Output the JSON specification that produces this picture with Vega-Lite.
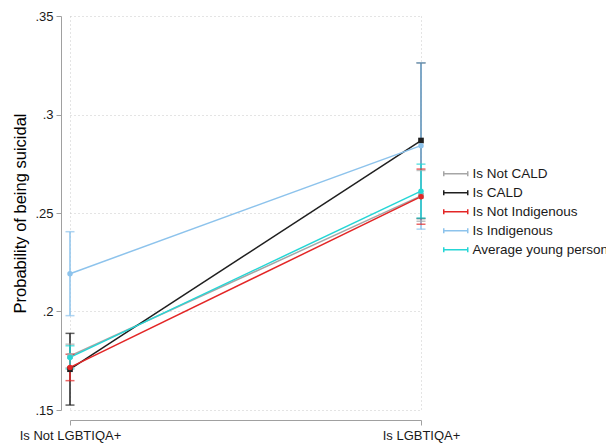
{
  "$schema": "https://vega.github.io/schema/vega-lite/v6.json",
  "autosize": "none",
  "width": 351,
  "height": 394,
  "padding": {"left": 70, "top": 16, "right": 185, "bottom": 35},
  "background": "white",
  "config": {
    "view": {"stroke": null},
    "font": "Liberation Sans"
  },
  "data": {
    "values": [
      {"series": "Is Not CALD", "group": "Is Not LGBTIQA+", "p": 0.1774, "lo": 0.1714, "hi": 0.1834},
      {"series": "Is Not CALD", "group": "Is LGBTIQA+", "p": 0.2587, "lo": 0.2458, "hi": 0.2716},
      {"series": "Is CALD", "group": "Is Not LGBTIQA+", "p": 0.1707, "lo": 0.1525, "hi": 0.1889},
      {"series": "Is CALD", "group": "Is LGBTIQA+", "p": 0.2868, "lo": 0.2472, "hi": 0.3262},
      {"series": "Is Not Indigenous", "group": "Is Not LGBTIQA+", "p": 0.1716, "lo": 0.1649, "hi": 0.1783},
      {"series": "Is Not Indigenous", "group": "Is LGBTIQA+", "p": 0.2583, "lo": 0.2443, "hi": 0.2723},
      {"series": "Is Indigenous", "group": "Is Not LGBTIQA+", "p": 0.2192, "lo": 0.1979, "hi": 0.2405},
      {"series": "Is Indigenous", "group": "Is LGBTIQA+", "p": 0.2842, "lo": 0.2418, "hi": 0.3262},
      {"series": "Average young person", "group": "Is Not LGBTIQA+", "p": 0.1767, "lo": 0.1708, "hi": 0.1826},
      {"series": "Average young person", "group": "Is LGBTIQA+", "p": 0.2611, "lo": 0.2474, "hi": 0.2748}
    ]
  },
  "encoding": {
    "x": {
      "field": "group", "type": "nominal",
      "scale": {"type": "point", "padding": 0, "domain": ["Is Not LGBTIQA+", "Is LGBTIQA+"]},
      "axis": {
        "title": null, "labelAngle": 0, "offset": 10, "tickSize": 5, "labelPadding": 4,
        "labelFontSize": 13, "labelColor": "#1a1a1a", "domainColor": "#a0a0a0", "tickColor": "#a0a0a0",
        "grid": true, "gridDash": [1, 3], "gridColor": "#c8c8c8", "gridWidth": 1
      }
    },
    "color": {
      "field": "series", "type": "nominal",
      "scale": {
        "domain": ["Is Not CALD", "Is CALD", "Is Not Indigenous", "Is Indigenous", "Average young person"],
        "range": ["#a6a6a6", "#1f1f1f", "#e32626", "#8dc3ec", "#25d6d6"]
      },
      "legend": {
        "title": null, "orient": "none", "legendX": 379, "legendY": 151, "padding": 0,
        "symbolType": "M-3,0H3M-3,-0.6V0.6M3,-0.6V0.6", "symbolSize": 64, "symbolStrokeWidth": 1.5,
        "symbolFillColor": "transparent",
        "labelFontSize": 13.5, "labelColor": "#1a1a1a", "labelOffset": 10, "rowPadding": 4, "labelLimit": 300,
        "encode": {"symbols": {"update": {
          "stroke": {"scale": "color", "field": "value"},
          "fill": {"value": "transparent"},
          "shape": {"value": "M-3,0H3M-3,-0.6V0.6M3,-0.6V0.6"},
          "size": {"value": 64},
          "strokeWidth": {"value": 1.5},
          "opacity": {"value": 1}
        }}}
      }
    }
  },
  "layer": [
    {
      "mark": {"type": "line", "strokeWidth": 1.5},
      "encoding": {
        "y": {
          "field": "p", "type": "quantitative",
          "scale": {"domain": [0.15, 0.35], "nice": false, "zero": false},
          "axis": {
            "title": "Probability of being suicidal", "titleFontSize": 16.5, "titleFontWeight": "normal", "titleColor": "#000", "titlePadding": 6,
            "values": [0.15, 0.2, 0.25, 0.3, 0.35],
            "labelExpr": "replace(format(datum.value, '.2~f'), /^0/, '')",
            "offset": 9, "tickSize": 5, "labelPadding": 3, "labelFontSize": 13, "labelColor": "#1a1a1a",
            "domainColor": "#a0a0a0", "tickColor": "#a0a0a0",
            "grid": true, "gridDash": [1, 3], "gridColor": "#c8c8c8", "gridWidth": 1
          }
        }
      }
    },
    {
      "mark": {"type": "rule", "strokeWidth": 1.5},
      "encoding": {
        "y": {"field": "lo", "type": "quantitative"},
        "y2": {"field": "hi"}
      }
    },
    {
      "mark": {"type": "tick", "size": 9, "thickness": 1.5},
      "encoding": {"y": {"field": "lo", "type": "quantitative"}}
    },
    {
      "mark": {"type": "tick", "size": 9, "thickness": 1.5},
      "encoding": {"y": {"field": "hi", "type": "quantitative"}}
    },
    {
      "transform": [{"filter": "datum.series == 'Is Not CALD' || datum.series == 'Is CALD'"}],
      "mark": {"type": "square", "opacity": 1, "size": 32},
      "encoding": {"y": {"field": "p", "type": "quantitative"}}
    },
    {
      "transform": [{"filter": "datum.series != 'Is Not CALD' && datum.series != 'Is CALD'"}],
      "mark": {"type": "circle", "opacity": 1, "size": 30},
      "encoding": {"y": {"field": "p", "type": "quantitative"}}
    }
  ]
}
